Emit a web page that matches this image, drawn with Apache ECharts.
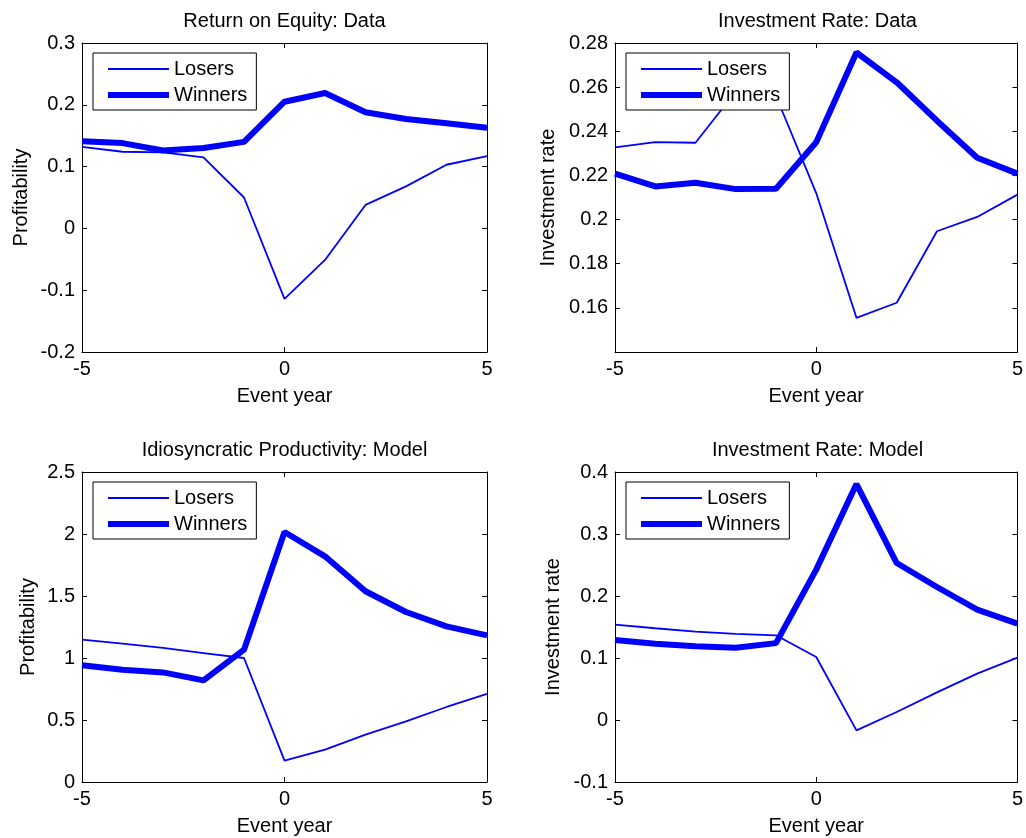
<!DOCTYPE html>
<html>
<head>
<meta charset="utf-8">
<script src="https://cdn.jsdelivr.net/npm/echarts@6/dist/echarts.min.js"></script>
<style>
html,body{margin:0;padding:0;background:#fff;}
#chart{width:1026px;height:838px;}
</style>
</head>
<body>
<div id="chart"></div>
<script>
// ---- data ----
const years = [-5, -4, -3, -2, -1, 0, 1, 2, 3, 4, 5];
const seriesNames = ['Losers', 'Winners'];

const roeLosers  = [0.132, 0.124, 0.123, 0.115, 0.050, -0.114, -0.051, 0.038, 0.068, 0.103, 0.117];
const roeWinners = [0.141, 0.138, 0.126, 0.130, 0.140, 0.205, 0.219, 0.188, 0.177, 0.170, 0.163];

const irDataLosers  = [0.2327, 0.2351, 0.2348, 0.258, 0.256, 0.212, 0.1555, 0.1623, 0.1947, 0.2012, 0.2113];
const irDataWinners = [0.2208, 0.2150, 0.2167, 0.2138, 0.2140, 0.2350, 0.2757, 0.2622, 0.2448, 0.2280, 0.2208];

const prodLosers  = [1.148, 1.116, 1.081, 1.040, 1.000, 0.172, 0.261, 0.382, 0.489, 0.605, 0.710];
const prodWinners = [0.941, 0.906, 0.884, 0.820, 1.067, 2.016, 1.820, 1.538, 1.371, 1.255, 1.183];

const irModelLosers  = [0.1538, 0.148, 0.1425, 0.139, 0.1366, 0.1016, -0.0167, 0.0129, 0.0446, 0.0747, 0.1005];
const irModelWinners = [0.129, 0.123, 0.119, 0.1167, 0.124, 0.2425, 0.3806, 0.2532, 0.2145, 0.178, 0.1554];

const panelTitles = ['Return on Equity: Data', 'Investment Rate: Data',
                     'Idiosyncratic Productivity: Model', 'Investment Rate: Model'];
const yNames = ['Profitability', 'Investment rate', 'Profitability', 'Investment rate'];
const xName = 'Event year';
const xTicks = {min: -5, max: 5, interval: 5};
const yTicks = [
  {min: -0.2, max: 0.3, interval: 0.1},
  {min: 0.14, max: 0.28, interval: 0.02, hideBelow: 0.145},
  {min: 0, max: 2.5, interval: 0.5},
  {min: -0.1, max: 0.4, interval: 0.1}
];
const panelData = [
  [roeLosers, roeWinners],
  [irDataLosers, irDataWinners],
  [prodLosers, prodWinners],
  [irModelLosers, irModelWinners]
];

// ---- layout ----
const FONT = '"Liberation Sans", Arial, Helvetica, sans-serif';
const grids = [
  {left: 82,  top: 43,  width: 405, height: 309},
  {left: 615, top: 43,  width: 405, height: 309},
  {left: 82,  top: 472, width: 405, height: 310},
  {left: 615, top: 472, width: 405, height: 310}
];
const yNameGaps = [51, 57, 44, 52];
const lineWidths = [1.8, 6];
const BLUE = '#0000ff';

const option = {
  backgroundColor: '#fff',
  animation: false,
  textStyle: {fontFamily: FONT, color: '#000'},
  title: [], grid: [], xAxis: [], yAxis: [], series: [], legend: []
};

const axisCommon = {
  axisLine: {show: true, onZero: false, lineStyle: {color: '#000', width: 1}},
  axisTick: {show: true, inside: true, length: 5, lineStyle: {color: '#000', width: 1}},
  splitLine: {show: false}
};

grids.forEach((g, i) => {
  option.grid.push({left: g.left, top: g.top, width: g.width, height: g.height, show: false, containLabel: false});
  option.title.push({
    text: panelTitles[i],
    left: g.left + g.width / 2,
    top: g.top - 32,
    textAlign: 'center',
    padding: 0,
    textStyle: {fontFamily: FONT, fontSize: 20, fontWeight: 'normal', color: '#000'}
  });
  // x axes: bottom with labels, top mirror
  option.xAxis.push(Object.assign({
    type: 'value', gridIndex: i, position: 'bottom',
    min: xTicks.min, max: xTicks.max, interval: xTicks.interval,
    axisLabel: {show: true, fontSize: 20, color: '#000', fontFamily: FONT, margin: 7},
    name: xName, nameLocation: 'middle', nameGap: 34,
    nameTextStyle: {fontSize: 20, color: '#000', fontFamily: FONT}
  }, axisCommon));
  option.xAxis.push(Object.assign({
    type: 'value', gridIndex: i, position: 'top',
    min: xTicks.min, max: xTicks.max, interval: xTicks.interval,
    axisLabel: {show: false}
  }, axisCommon));
  const yt = yTicks[i];
  option.yAxis.push(Object.assign({
    type: 'value', gridIndex: i, position: 'left',
    min: yt.min, max: yt.max, interval: yt.interval,
    axisLabel: {
      show: true, fontSize: 20, color: '#000', fontFamily: FONT, margin: 7,
      formatter: v => (yt.hideBelow !== undefined && v < yt.hideBelow) ? '' : String(+v.toFixed(4))
    },
    name: yNames[i], nameLocation: 'middle', nameGap: yNameGaps[i],
    nameTextStyle: {fontSize: 20, color: '#000', fontFamily: FONT}
  }, axisCommon));
  option.yAxis.push(Object.assign({
    type: 'value', gridIndex: i, position: 'right',
    min: yt.min, max: yt.max, interval: yt.interval,
    axisLabel: {show: false}
  }, axisCommon));

  panelData[i].forEach((vals, k) => {
    option.series.push({
      type: 'line',
      name: seriesNames[k],
      xAxisIndex: 2 * i, yAxisIndex: 2 * i,
      data: years.map((x, j) => [x, vals[j]]),
      symbol: 'none', showSymbol: false,
      lineStyle: {color: BLUE, width: lineWidths[k]},
      itemStyle: {color: BLUE},
      z: k === 0 ? 3 : 2,
      clip: true,
      silent: true
    });
  });

  option.legend.push({
    orient: 'vertical',
    left: g.left + 11, top: g.top + 10,
    padding: [5, 9, 4, 12],
    itemGap: 4,
    itemWidth: 61, itemHeight: 14,
    backgroundColor: '#fff',
    borderColor: '#000', borderWidth: 1, borderRadius: 0,
    selectedMode: false,
    textStyle: {fontSize: 20, color: '#000', fontFamily: FONT, lineHeight: 22},
    itemStyle: {color: 'rgba(0,0,0,0)', borderWidth: 0, opacity: 0},
    data: seriesNames.map((n, k) => ({name: n, lineStyle: {color: BLUE, width: lineWidths[k]}})),
    z: 10
  });
});

const chart = echarts.init(document.getElementById('chart'), null, {renderer: 'canvas'});
chart.setOption(option);
</script>
</body>
</html>
